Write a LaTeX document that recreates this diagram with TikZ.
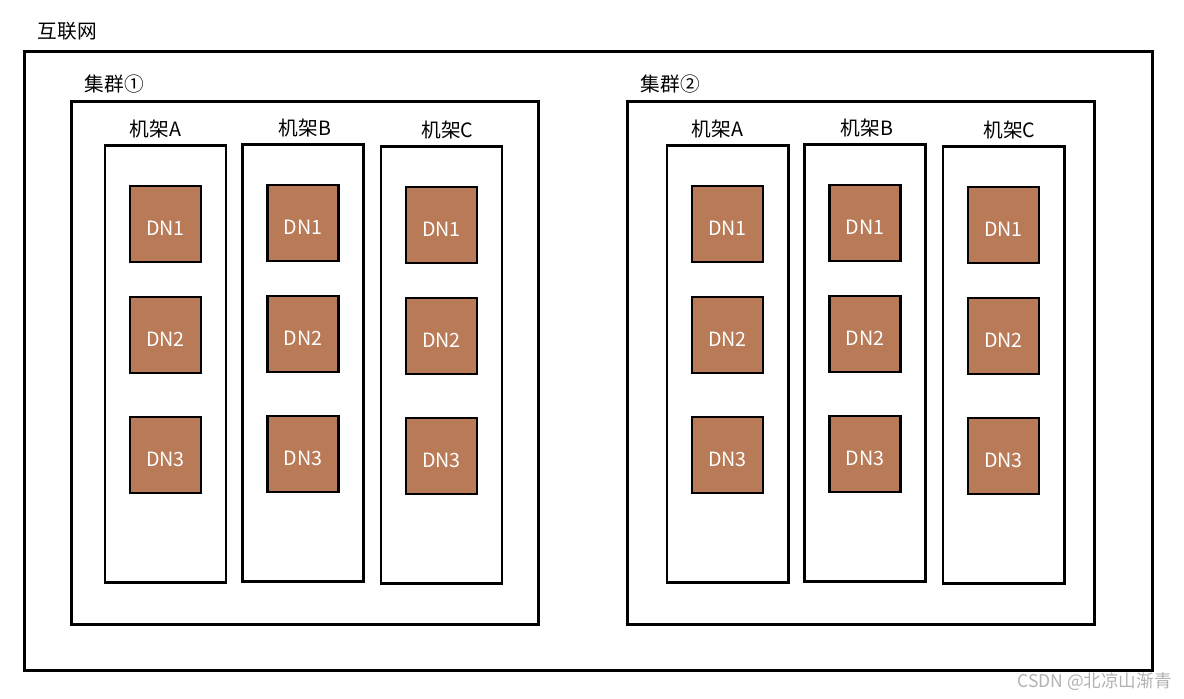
\documentclass[tikz,border=0pt]{standalone}
\usepackage{fontspec}
\setmainfont{Noto Sans CJK SC}
\usetikzlibrary{positioning}
\definecolor{dnbrown}{HTML}{B97A57}

\tikzset{
 box/.style={draw, line width=2.1pt, inner sep=0pt},
 netbox/.style={box, minimum width=28.175cm, minimum height=15.45cm},
 clbox/.style={box, minimum width=11.65cm, minimum height=13.05cm},
 rackbox/.style={box, minimum width=3.025cm, minimum height=10.9cm},
 dnbox/.style={box, fill=dnbrown, text=white, minimum width=1.775cm, minimum height=1.9cm,
  text height=15.9pt, text depth=0pt, font=\fontsize{14}{16}\selectfont},
 lbl/.style={inner sep=0pt, font=\fontsize{14}{16}\selectfont}
}

\begin{document}
\begin{tikzpicture}[x=0.025cm, y=-0.025cm]
 \useasboundingbox (0,0) rectangle (1184,698);
 % internet
 \node[netbox] (net) at (588.5,361) {};
 \node[lbl, above right=0.25cm and 0.35cm of net.north west] (netl) {互联网};

 % clusters
 \foreach \c/\cx/\cn in {1/305/①, 2/861/②} {
  \node[clbox] (c\c) at (\cx,363) {};
  \node[lbl, above right=0.18cm and 0.35cm of c\c.north west] (cl\c) {集群\cn};
 }

 % racks and data nodes
 \foreach \c/\ox in {1/0, 2/562} {
  \foreach \r/\x/\t/\s in {A/165.5/146/-0.25, B/303/145/0.05, C/441.5/147/0.15} {
   \node[rackbox] (r\c\r) at (\x+\ox,\t+218) {};
   \node[lbl, above=0.16cm of r\c\r.north, xshift=\s cm] (rl\c\r) {机架\r};
   \foreach \n/\dy in {1/78, 2/189, 3/309} {
    \node[dnbox] (d\c\r\n) at (\x+\ox,\t+\dy) {DN\n};
   };
  };
 };

 % watermark
 \node[lbl, text=gray!60, anchor=east, font=\fontsize{12.5}{14}\selectfont] (wm) at (1172,682) {CSDN @北凉山渐青};
\end{tikzpicture}
\end{document}
